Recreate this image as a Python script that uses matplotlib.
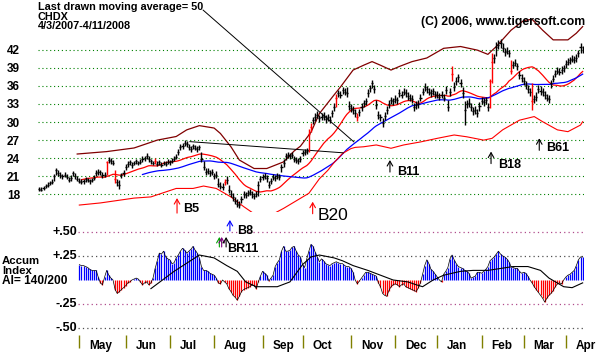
import matplotlib
matplotlib.use("Agg")
import matplotlib.pyplot as plt
import matplotlib.transforms as mtransforms
import numpy as np
import pandas as pd

plt.rcParams['font.family'] = ['Liberation Sans', 'DejaVu Sans']

# ---- daily price bars, 4/3/2007 - 4/11/2008 (trading day index 0..258)
close = [
    18.9, 18.8, 19.1, 19.4, 19.6, 19.9, 20.1, 21.0, 22.0, 21.6,
    21.2, 21.0, 21.3, 20.9, 20.4, 20.8, 21.5, 21.0, 20.6, 20.3,
    20.1, 20.2, 20.5, 20.4, 20.2, 20.4, 20.8, 21.6, 21.8, 21.7,
    21.2, 21.3, 23.4, 23.7, 23.5, 23.2, 20.6, 20.0, 19.6, 21.2,
    21.6, 22.6, 23.1, 23.3, 22.9, 23.2, 23.5, 23.2, 23.4, 23.8,
    24.0, 24.3, 23.8, 23.5, 23.2, 23.5, 23.1, 23.3, 22.9, 23.2,
    23.1, 23.4, 23.3, 23.6, 23.9, 24.2, 25.0, 25.9, 26.1, 26.5,
    26.3, 25.8, 25.6, 26.0, 25.7, 25.5, 25.8, 23.8, 22.5, 21.7,
    21.9, 21.5, 21.7, 21.0, 21.3, 19.8, 19.4, 19.3, 20.0, 20.4,
    18.7, 18.1, 17.6, 17.0, 16.5, 16.2, 17.2, 18.0, 17.9, 18.3,
    18.4, 18.0, 17.8, 18.1, 19.5, 20.6, 20.9, 21.0, 20.7, 19.6,
    20.2, 20.9, 20.8, 21.0, 20.9, 22.5, 23.2, 24.3, 24.6, 24.4,
    24.5, 23.9, 23.7, 23.6, 23.8, 24.8, 25.0, 25.2, 28.0, 29.2,
    30.3, 30.8, 31.2, 30.6, 30.9, 31.0, 30.5, 30.8, 30.4, 31.5,
    32.5, 34.0, 34.8, 34.5, 35.3, 35.0, 34.8, 32.6, 32.3, 32.0,
    31.5, 30.8, 31.6, 32.5, 33.1, 33.4, 34.8, 35.6, 36.4, 35.5,
    32.8, 31.2, 30.8, 29.9, 31.0, 32.0, 33.0, 33.6, 33.4, 33.8,
    33.6, 34.8, 34.5, 35.0, 34.8, 34.3, 34.0, 33.8, 32.5, 32.8,
    33.0, 34.0, 35.0, 35.8, 35.4, 35.0, 34.8, 35.1, 34.6, 34.5,
    34.2, 34.5, 34.0, 35.3, 32.5, 35.0, 38.0, 35.8, 36.8, 37.4,
    36.5, 34.8, 32.0, 33.0, 33.2, 32.5, 31.8, 32.0, 31.5, 32.6,
    33.5, 33.3, 33.6, 32.5, 36.8, 40.0, 40.6, 42.5, 42.8, 43.0,
    42.3, 41.6, 41.8, 41.4, 38.5, 39.5, 39.8, 39.2, 37.8, 37.3,
    36.8, 36.1, 35.5, 35.0, 33.5, 33.8, 34.2, 35.5, 35.2, 35.0,
    34.5, 34.0, 33.8, 36.5, 37.2, 38.0, 38.5, 38.3, 38.6, 38.9,
    39.6, 40.0, 40.2, 40.5, 40.3, 40.6, 41.4, 42.5, 42.0]

high = [
    19.3, 19.2, 19.4, 19.8, 20.0, 20.3, 20.6, 21.4, 22.4, 22.1,
    21.7, 21.4, 21.7, 21.4, 20.9, 21.2, 21.9, 21.6, 21.1, 20.8,
    20.6, 20.6, 20.9, 20.8, 20.6, 20.8, 21.3, 22.0, 22.2, 22.1,
    21.7, 21.7, 23.6, 24.2, 24.0, 23.7, 22.0, 20.5, 20.4, 21.6,
    22.0, 23.0, 23.5, 23.7, 23.4, 23.6, 23.9, 23.6, 23.9, 24.3,
    24.4, 24.8, 24.3, 23.9, 23.6, 24.0, 23.5, 23.7, 23.4, 23.6,
    23.5, 23.8, 23.7, 24.0, 24.3, 24.7, 25.5, 26.3, 26.6, 27.0,
    26.8, 26.3, 26.0, 26.4, 26.2, 26.0, 26.2, 25.0, 23.6, 22.4,
    22.4, 22.0, 22.2, 21.6, 21.9, 20.8, 20.0, 19.9, 20.5, 21.0,
    19.6, 18.8, 18.2, 17.6, 17.2, 17.0, 17.8, 18.5, 18.4, 18.8,
    18.9, 18.5, 18.3, 18.6, 20.2, 21.1, 21.4, 21.5, 21.2, 20.2,
    20.7, 21.4, 21.3, 21.5, 21.4, 23.0, 23.8, 24.8, 25.1, 24.9,
    25.0, 24.4, 24.2, 24.1, 24.3, 25.3, 25.5, 25.7, 28.8, 29.8,
    30.9, 31.5, 31.9, 31.2, 31.5, 31.6, 31.1, 31.4, 31.0, 32.0,
    33.1, 34.6, 35.3, 35.1, 35.8, 35.6, 35.8, 33.5, 32.9, 32.6,
    32.1, 31.5, 32.2, 33.1, 33.7, 34.0, 35.4, 36.2, 37.0, 36.1,
    33.6, 31.9, 31.4, 30.6, 31.6, 32.6, 33.6, 34.2, 34.0, 34.4,
    34.2, 35.4, 35.1, 35.6, 35.4, 34.9, 34.6, 34.4, 33.2, 33.4,
    33.6, 34.6, 35.7, 36.4, 36.0, 35.6, 35.4, 35.7, 35.2, 35.1,
    34.8, 35.1, 34.6, 35.9, 33.6, 35.7, 39.3, 36.6, 37.5, 38.0,
    37.2, 35.8, 33.5, 33.7, 33.9, 33.2, 32.5, 32.7, 32.2, 33.3,
    34.1, 33.9, 34.2, 33.2, 37.2, 41.4, 41.2, 43.2, 43.5, 43.7,
    43.0, 42.2, 42.4, 42.0, 40.3, 40.1, 40.4, 39.8, 38.5, 38.0,
    37.4, 36.8, 36.2, 35.7, 36.4, 34.5, 35.0, 36.1, 35.9, 35.6,
    35.2, 34.7, 34.5, 37.0, 37.8, 38.6, 39.1, 38.9, 39.2, 39.5,
    40.2, 40.6, 40.8, 41.1, 40.9, 41.2, 42.0, 43.1, 42.6]

low = [
    18.6, 18.5, 18.7, 19.0, 19.2, 19.5, 19.8, 20.2, 21.3, 21.1,
    20.8, 20.6, 20.9, 20.5, 20.0, 20.3, 21.0, 20.6, 20.2, 19.9,
    19.7, 19.8, 20.1, 20.0, 19.8, 20.0, 20.4, 21.1, 21.3, 21.2,
    20.8, 20.9, 21.2, 23.2, 23.0, 22.8, 19.9, 19.4, 18.9, 20.7,
    21.1, 22.1, 22.6, 22.9, 22.4, 22.8, 23.0, 22.8, 23.0, 23.3,
    23.5, 23.9, 23.4, 23.1, 22.8, 23.0, 22.7, 22.9, 22.5, 22.8,
    22.7, 23.0, 22.9, 23.2, 23.5, 23.8, 24.5, 25.3, 25.6, 26.0,
    25.8, 25.3, 25.1, 25.6, 25.3, 25.0, 25.3, 23.4, 22.0, 21.2,
    21.4, 21.0, 21.2, 20.5, 20.8, 19.3, 18.9, 18.8, 19.5, 19.8,
    18.2, 17.6, 17.0, 16.4, 15.9, 15.8, 16.6, 17.4, 17.4, 17.8,
    17.9, 17.5, 17.3, 17.6, 17.7, 20.0, 20.4, 20.5, 20.1, 19.0,
    19.7, 20.4, 20.3, 20.5, 20.4, 21.8, 22.6, 23.7, 24.1, 23.9,
    24.0, 23.4, 23.2, 23.1, 23.3, 24.3, 24.5, 24.7, 25.0, 28.4,
    29.6, 30.2, 30.6, 30.0, 30.3, 30.4, 29.9, 30.2, 29.8, 30.9,
    31.9, 32.5, 34.2, 33.9, 34.7, 34.4, 34.1, 32.0, 31.7, 31.4,
    30.8, 30.2, 31.0, 31.9, 32.5, 32.8, 34.1, 35.0, 35.7, 34.8,
    32.1, 30.5, 30.1, 29.2, 30.4, 31.4, 32.4, 33.0, 32.8, 33.2,
    33.0, 34.2, 33.9, 34.4, 34.2, 33.7, 33.4, 33.2, 31.9, 32.2,
    32.4, 33.4, 34.4, 35.1, 34.8, 34.4, 34.2, 34.5, 34.0, 33.9,
    33.6, 33.9, 33.4, 34.7, 31.9, 34.3, 36.8, 35.1, 36.1, 36.7,
    35.8, 34.0, 29.5, 32.3, 32.5, 31.8, 31.1, 31.3, 30.8, 31.9,
    32.9, 32.7, 33.0, 31.9, 32.4, 36.4, 39.8, 40.9, 42.1, 42.3,
    41.6, 41.0, 41.2, 40.8, 38.0, 38.9, 39.2, 38.6, 37.2, 36.6,
    36.1, 35.4, 34.8, 34.3, 32.0, 33.1, 33.5, 34.8, 34.5, 34.3,
    33.8, 33.4, 33.2, 35.6, 36.6, 37.4, 37.9, 37.7, 38.0, 38.3,
    39.0, 39.4, 39.6, 39.9, 39.7, 40.0, 40.8, 41.4, 41.5]

red_days = [32, 36, 55, 88, 128, 129, 141, 151, 196, 214, 215, 224, 234]

# bands
up_days = [18, 32, 45, 56, 65, 70, 76, 83, 86, 91, 95, 102, 108, 116, 121, 124,
           129, 133, 140, 143, 149, 154, 158, 162, 167, 171, 177, 184, 192, 200,
           208, 213, 217, 224, 230, 234, 239, 244, 251, 255, 258]
up_vals = [24.7, 25.1, 25.7, 27.0, 27.6, 28.7, 29.4, 29.0, 28.1, 25.9, 23.7, 22.3,
           22.3, 23.4, 25.2, 26.0, 28.3, 31.4, 34.5, 35.8, 38.6, 39.4, 40.0, 39.4,
           38.6, 39.2, 40.0, 40.6, 42.2, 42.5, 41.9, 41.2, 42.5, 45.2, 46.8, 47.0,
           45.2, 43.6, 43.6, 44.7, 45.8]
lo_days = [19, 29, 45, 53, 65, 73, 78, 84, 91, 97, 102, 109, 116, 128, 133, 137,
           140, 144, 148, 150, 154, 160, 167, 173, 181, 189, 197, 203, 211, 215,
           220, 228, 235, 239, 246, 251, 257, 258]
lo_vals = [16.25, 16.6, 17.4, 17.6, 19.0, 19.0, 19.4, 19.0, 17.6, 16.0, 14.8, 14.4,
           15.7, 18.2, 20.6, 22.0, 23.3, 24.8, 25.6, 25.8, 25.9, 26.2, 25.65, 26.2,
           26.7, 27.3, 27.85, 27.55, 27.0, 27.3, 28.7, 30.3, 30.9, 30.05, 28.7,
           28.4, 29.5, 30.05]

trend_days = [71.5, 144.3]
trend_vals = [26.75, 24.9]

# accumulation index (starts at day 19)
ai_start = 19
ai = [
    0.16, 0.15, 0.15, 0.14, 0.13, 0.11, 0.10, 0.10, 0.10, 0.03,
    -0.03, -0.05, 0.03, 0.10, 0.05, 0.02, 0.00, -0.10, -0.14, -0.12,
    -0.10, -0.08, -0.06, -0.03, -0.02, 0.00, 0.01, 0.02, 0.01, -0.02,
    -0.05, -0.03, -0.02, -0.05, -0.03, 0.02, 0.12, 0.20, 0.28, 0.27,
    0.30, 0.24, 0.22, 0.21, 0.17, 0.18, 0.23, 0.26, 0.30, 0.33,
    0.31, 0.28, 0.30, 0.32, 0.35, 0.31, 0.28, 0.23, 0.14, 0.10,
    0.10, 0.09, 0.07, 0.06, 0.05, 0.02, -0.03, -0.04, 0.00, -0.02,
    -0.04, -0.09, -0.12, -0.16, -0.18, -0.21, -0.17, -0.12, -0.10, -0.09,
    -0.08, -0.07, -0.05, -0.06, -0.09, -0.02, 0.04, 0.09, 0.07, 0.05,
    -0.01, 0.02, 0.05, 0.14, 0.18, 0.21, 0.30, 0.35, 0.30, 0.30,
    0.31, 0.34, 0.35, 0.30, 0.26, 0.24, 0.16, 0.13, 0.22, 0.30,
    0.37, 0.35, 0.29, 0.24, 0.19, 0.22, 0.20, 0.17, 0.16, 0.15,
    0.17, 0.18, 0.19, 0.18, 0.17, 0.17, 0.15, 0.14, 0.14, 0.12,
    0.08, 0.00, -0.04, -0.01, 0.02, 0.05, 0.08, 0.08, 0.07, 0.06,
    0.05, 0.04, -0.03, -0.07, -0.14, -0.16, -0.17, -0.11, -0.07, -0.05,
    -0.04, -0.05, -0.07, -0.05, -0.04, -0.07, -0.08, -0.09, -0.10, -0.11,
    -0.12, -0.08, -0.03, 0.06, 0.15, 0.21, 0.17, 0.11, 0.09, 0.06,
    0.03, 0.00, -0.02, 0.06, 0.09, 0.13, 0.22, 0.26, 0.21, 0.17,
    0.14, 0.13, 0.12, 0.10, 0.09, 0.07, 0.02, 0.03, 0.04, 0.08,
    0.08, 0.07, 0.09, 0.11, 0.14, 0.20, 0.22, 0.24, 0.27, 0.30,
    0.27, 0.25, 0.24, 0.22, 0.19, 0.14, 0.13, 0.12, 0.12, 0.09,
    0.07, 0.08, 0.07, 0.04, 0.00, -0.03, -0.07, -0.10, -0.13, -0.16,
    -0.19, -0.23, -0.19, -0.16, -0.14, -0.11, -0.07, -0.04, -0.03, -0.04,
    0.00, 0.03, 0.05, 0.06, 0.08, 0.10, 0.15, 0.21, 0.24, 0.24]

ai_ma_days = [53, 64, 76, 83, 89, 94, 98, 103, 113, 119, 125, 129, 133, 140, 144,
              149, 156, 162, 168, 175, 179, 182, 187, 192, 200, 206, 213, 219, 225,
              232, 238, 242, 249, 253, 258]
ai_ma_vals = [-0.09, 0.09, 0.26, 0.23, 0.15, 0.09, -0.02, -0.07, -0.07, -0.02, 0.16,
              0.24, 0.26, 0.23, 0.20, 0.15, 0.10, 0.05, 0.00, -0.02, -0.05, -0.07,
              0.00, 0.05, 0.09, 0.10, 0.10, 0.12, 0.14, 0.14, 0.10, 0.02, -0.07,
              -0.08, -0.03]

price_levels = [18, 21, 24, 27, 30, 33, 36, 39, 42]
ai_levels = [0.50, 0.25, -0.25, -0.50]
ai_labels = ['+.50', '+.25', '-.25', '-.50']
ai_grid_colors = ['#b04c8c', '#505050', '#b04c8c', '#505050']

month_starts = [19, 41, 62, 83, 106, 125, 148, 169, 189, 210, 230, 250]
month_names = ['May', 'Jun', 'Jul', 'Aug', 'Sep', 'Oct', 'Nov', 'Dec', 'Jan',
               'Feb', 'Mar', 'Apr']

# signals: price panel
sig_names = ['B5', 'B20', 'B11', 'B18', 'B61']
sig_days = [65.4, 129.8, 166.5, 214.5, 237.4]
sig_vals = [17.4, 16.8, 23.7, 25.1, 27.3]
sig_colors = ['red', 'red', 'black', 'black', 'black']

# ---------------------------------------------------------------------------
W, H = 613, 354
fig = plt.figure(figsize=(W / 100, H / 100), dpi=100)
fig.patch.set_facecolor('white')

left, right = 38, 584
xlim = ((left - 39.3) / 2.106, (right - 39.3) / 2.106)

ax = fig.add_axes([left / W, 1 - 212 / H, (right - left) / W, 212 / H])
ax2 = fig.add_axes([left / W, 1 - 335 / H, (right - left) / W, 113 / H])
for a in (ax, ax2):
    a.set_xlim(*xlim)
    for s in a.spines.values():
        s.set_visible(False)
    a.set_facecolor('none')
ax.set_ylim(15.1, 50.2)
ax2.set_ylim(-0.573, 0.604)

# price panel
for v in price_levels:
    ax.axhline(v, color='#008000', lw=0.8, ls=(0, (1, 2.5)), zorder=0)
ax.set_xticks([])
ax.set_yticks(price_levels)
ax.set_yticklabels([str(v) for v in price_levels], fontweight='bold', fontsize=8.5)
ax.tick_params(axis='y', length=0, pad=13)

days = np.arange(len(close))
bar_colors = ['red' if d in red_days else 'black' for d in days]
ax.vlines(days, low, high, colors=bar_colors, lw=1.0, zorder=3)
ax.hlines(close, days - 0.5, days + 0.5, colors=bar_colors, lw=1.0, zorder=3)

s = pd.Series(close)
ax.plot(days, s.rolling(21).mean(), color='#ff0000', lw=0.9, zorder=2)
ax.plot(days, s.rolling(50).mean(), color='#0000ff', lw=0.9, zorder=2)
ax.plot(up_days, up_vals, color='#800000', lw=0.9, zorder=2)
ax.plot(lo_days, lo_vals, color='#ff0000', lw=0.8, zorder=2)
ax.plot(trend_days, trend_vals, color='black', lw=0.7, zorder=2)

ax.annotate('', xy=(149.4, 26.7), xycoords='data', xytext=(203, H - 10),
            textcoords='figure pixels',
            arrowprops=dict(arrowstyle='-', color='black', lw=0.7,
                            shrinkA=0, shrinkB=0))


def arrow(axis, day, val, color, length=12):
    axis.annotate('', xy=(day, val), xytext=(0, -length), textcoords='offset pixels',
                  arrowprops=dict(arrowstyle='->,head_length=0.35,head_width=0.2',
                                  color=color, lw=0.8, shrinkA=0, shrinkB=0),
                  annotation_clip=False)


def label(axis, day, val, text, dx, dy, size=9, weight='bold'):
    axis.annotate(text, xy=(day, val), xytext=(dx, dy), textcoords='offset pixels',
                  ha='left', va='center', fontsize=size, fontweight=weight,
                  annotation_clip=False)


offsets = [(6, -11), (5, -14), (7, -12), (7, -13), (7, -10)]
for n, d, v, c, o in zip(sig_names, sig_days, sig_vals, sig_colors, offsets):
    arrow(ax, d, v, c, 15 if n == 'B5' else 12)
    if n == 'B20':
        label(ax, d, v, n, o[0], o[1], size=12.5, weight='normal')
    else:
        label(ax, d, v, n, o[0], o[1])

# accumulation panel
for lv, c in zip(ai_levels, ai_grid_colors):
    ax2.hlines(lv, 18.5, xlim[1], color=c, lw=0.9, ls=(0, (1, 2.5)))
for lv, t in zip(ai_levels, ai_labels):
    ax2.text((77 - 39.3) / 2.106, lv, t, ha='right', va='center',
             fontsize=9, fontweight='bold')

ai_days = np.arange(ai_start, ai_start + len(ai))
ai_arr = np.array(ai)
ai_cols = np.where(ai_arr >= 0, '#0000ff', '#ff0000')
ax2.vlines(ai_days, 0, ai_arr, colors=ai_cols, lw=0.9)
ax2.plot(ai_days, ai_arr, color='black', lw=0.5)
ax2.plot(ai_ma_days, ai_ma_vals, color='black', lw=0.8)

arrow(ax2, 90.5, 0.625, '#0000ff', 11)
label(ax2, 90.5, 0.625, 'B8', 7, -11)
for d, c in zip([85.5, 86.6, 88.7], ['#00a000', '#800080', 'black']):
    arrow(ax2, d, 0.448, c, 10)
label(ax2, 88.7, 0.448, 'BR11', 1, -12)

ax2.set_yticks([])
ax2.set_xticks(month_starts)
ax2.tick_params(axis='x', length=9.4, width=1, color='#808000', labelbottom=False,
                direction='out')
trans = mtransforms.blended_transform_factory(ax2.transData, fig.transFigure) + \
    mtransforms.ScaledTranslation(10 / 100, 0, fig.dpi_scale_trans)
for d, n in zip(month_starts, month_names):
    ax2.text(d, 1 - 346 / H, n, transform=trans, ha='left', va='center',
             fontsize=8.5, fontweight='bold')

# header and side texts
fig.text(38 / W, 1 - 9.8 / H, 'Last drawn moving average= 50', fontsize=7.8,
         fontweight='bold', va='baseline')
fig.text(38 / W, 1 - 19.9 / H, 'CHDX', fontsize=7.8, fontweight='bold',
         va='baseline')
fig.text(38 / W, 1 - 29 / H, '4/3/2007-4/11/2008', fontsize=7.8, fontweight='bold',
         va='baseline')
fig.text(421 / W, 1 - 25 / H, '(C) 2006, www.tigersoft.com', fontsize=8.8,
         fontweight='bold', va='baseline')
fig.text(2 / W, 1 - 263.5 / H, 'Accum', fontsize=8.2, fontweight='bold', va='baseline')
fig.text(2 / W, 1 - 273.9 / H, 'Index', fontsize=8.2, fontweight='bold', va='baseline')
fig.text(2 / W, 1 - 284.3 / H, 'AI= 140/200', fontsize=8.6, fontweight='bold',
         va='baseline')

fig.savefig('out.png', dpi=100, facecolor='white')
